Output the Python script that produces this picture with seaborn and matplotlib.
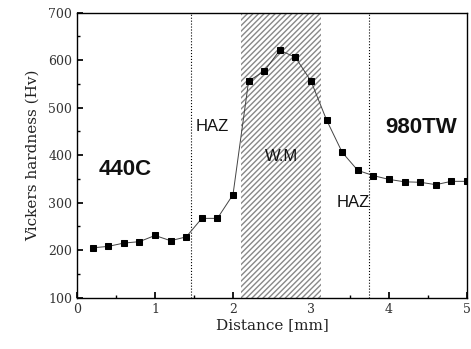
import matplotlib
matplotlib.use("Agg")
import matplotlib.pyplot as plt
import seaborn as sns
import pandas as pd
from matplotlib.ticker import MultipleLocator

distance = [0.2, 0.4, 0.6, 0.8, 1.0, 1.2, 1.4, 1.6, 1.8, 2.0, 2.2, 2.4, 2.6, 2.8, 3.0,
            3.2, 3.4, 3.6, 3.8, 4.0, 4.2, 4.4, 4.6, 4.8, 5.0]
hardness = [205, 208, 215, 218, 231, 220, 228, 267, 267, 317, 556, 577, 621, 606, 556,
            474, 406, 368, 357, 349, 344, 343, 338, 345, 345]
haz_lines = [1.46, 3.74]
wm_span = [2.1, 3.13]
labels = [("HAZ", 1.73, 460, "normal"), ("440C", 0.62, 370, "bold"), ("W.M", 2.62, 397, "normal"),
          ("HAZ", 3.54, 300, "normal"), ("980TW", 4.41, 458, "bold")]

sns.set_theme(style="ticks")
plt.rcParams['font.family'] = ['DejaVu Serif']

df = pd.DataFrame({"Distance": distance, "Hardness": hardness})

fig = plt.figure(figsize=(4.71, 3.49), dpi=100)
ax = fig.add_axes([0.1635, 0.147, 0.828, 0.8166])

ax.axvspan(wm_span[0], wm_span[1], facecolor="white", edgecolor="#888888", hatch="//////", linewidth=0)
for xv in haz_lines:
    ax.axvline(xv, color="black", linestyle=":", linewidth=0.8)

sns.lineplot(data=df, x="Distance", y="Hardness", ax=ax, color="#444444", linewidth=0.7,
             marker="s", markersize=4.2, markerfacecolor="black", markeredgecolor="black")

for text, x, y, w in labels:
    ax.text(x, y, text, ha="center", va="center", fontsize=16 if w == "bold" else 12,
            fontweight=w, family="Liberation Sans", color="#111111")

ax.set_xlim(0, 5)
ax.set_ylim(100, 700)
ax.xaxis.set_major_locator(MultipleLocator(1))
ax.xaxis.set_minor_locator(MultipleLocator(0.5))
ax.yaxis.set_major_locator(MultipleLocator(100))
ax.yaxis.set_minor_locator(MultipleLocator(50))
ax.tick_params(which="both", direction="in", labelsize=9, color="black", labelcolor="#333333")
ax.tick_params(which="major", length=4)
ax.tick_params(which="minor", length=2)
for s in ax.spines.values():
    s.set_linewidth(1.0)
    s.set_color("black")
ax.set_xlabel("Distance [mm]", fontsize=11, color="#222222", labelpad=2)
ax.set_ylabel("Vickers hardness (Hv)", fontsize=11, color="#222222", labelpad=6)

fig.savefig("out.png", dpi=100)
